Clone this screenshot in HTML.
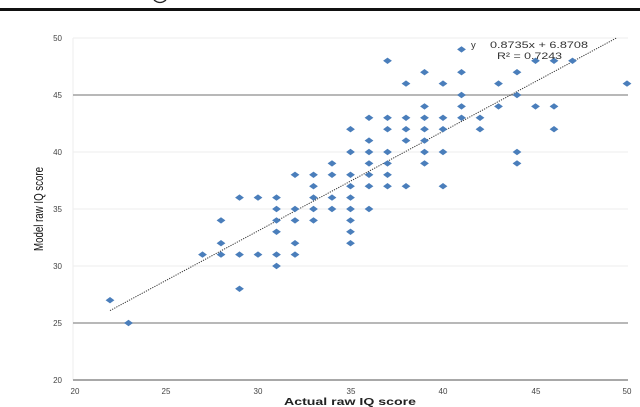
<!DOCTYPE html>
<html><head><meta charset="utf-8"><style>
html,body{margin:0;padding:0;background:#fff;}
svg{display:block;}
text{font-family:"Liberation Sans",sans-serif;}
</style></head><body>
<svg width="640" height="407" viewBox="0 0 640 407" xmlns="http://www.w3.org/2000/svg">
<defs><path id="m" d="M-4.4,0 L0,-3.2 L4.4,0 L0,3.2Z" fill="#4A7EBB"/></defs>
<rect width="640" height="407" fill="#fff"/>
<!-- top rule -->
<rect x="0" y="8" width="640" height="3" fill="#111"/>
<path d="M154,0 Q160,5 166,0" fill="none" stroke="#222" stroke-width="1.3"/>
<!-- faint gridlines -->
<g stroke="#eeeeee" stroke-width="1">
<line x1="73" y1="38" x2="628" y2="38"/>
<line x1="73" y1="152" x2="628" y2="152"/>
<line x1="73" y1="209" x2="628" y2="209"/>
<line x1="73" y1="266" x2="628" y2="266"/>
<line x1="73" y1="38" x2="73" y2="380"/>
</g>
<g stroke="#a0a0a0" stroke-width="1.5">
<line x1="73" y1="95" x2="628" y2="95"/>
<line x1="73" y1="323" x2="628" y2="323"/>
</g>
<line x1="73" y1="380" x2="628" y2="380" stroke="#a8a8a8" stroke-width="2"/>
<!-- y labels -->
<g font-size="8" fill="#444" text-anchor="end">
<text x="62" y="41">50</text>
<text x="62" y="98">45</text>
<text x="62" y="155">40</text>
<text x="62" y="212">35</text>
<text x="62" y="269">30</text>
<text x="62" y="326">25</text>
<text x="62" y="383">20</text>
</g>
<g font-size="8" fill="#444" text-anchor="middle">
<text x="75" y="394">20</text>
<text x="166" y="394">25</text>
<text x="258" y="394">30</text>
<text x="351" y="394">35</text>
<text x="443" y="394">40</text>
<text x="536" y="394">45</text>
<text x="627" y="394">50</text>
</g>
<text x="350" y="405" font-size="10.5" font-weight="bold" fill="#222" text-anchor="middle" textLength="132" lengthAdjust="spacingAndGlyphs">Actual raw IQ score</text>
<text transform="translate(43,209) rotate(-90)" font-size="13" fill="#111" text-anchor="middle" textLength="84" lengthAdjust="spacingAndGlyphs">Model raw IQ score</text>
<!-- trendline -->
<line x1="110" y1="310.6" x2="617" y2="37.7" stroke="#333" stroke-width="1" stroke-dasharray="1.2,1.2"/>
<!-- points -->
<g>
<use href="#m" x="461.5" y="49.4"/>
<use href="#m" x="387.5" y="60.8"/><use href="#m" x="535.5" y="60.8"/><use href="#m" x="554" y="60.8"/><use href="#m" x="572.5" y="60.8"/>
<use href="#m" x="424.5" y="72.2"/><use href="#m" x="461.5" y="72.2"/><use href="#m" x="517" y="72.2"/>
<use href="#m" x="406" y="83.6"/><use href="#m" x="443" y="83.6"/><use href="#m" x="498.5" y="83.6"/><use href="#m" x="627" y="83.6"/>
<use href="#m" x="461.5" y="95"/><use href="#m" x="517" y="95"/>
<use href="#m" x="424.5" y="106.4"/><use href="#m" x="461.5" y="106.4"/><use href="#m" x="498.5" y="106.4"/><use href="#m" x="535.5" y="106.4"/><use href="#m" x="554" y="106.4"/>
<use href="#m" x="369" y="117.8"/><use href="#m" x="387.5" y="117.8"/><use href="#m" x="406" y="117.8"/><use href="#m" x="424.5" y="117.8"/><use href="#m" x="443" y="117.8"/><use href="#m" x="461.5" y="117.8"/><use href="#m" x="480" y="117.8"/>
<use href="#m" x="350.5" y="129.2"/><use href="#m" x="387.5" y="129.2"/><use href="#m" x="406" y="129.2"/><use href="#m" x="424.5" y="129.2"/><use href="#m" x="443" y="129.2"/><use href="#m" x="480" y="129.2"/><use href="#m" x="554" y="129.2"/>
<use href="#m" x="369" y="140.6"/><use href="#m" x="406" y="140.6"/><use href="#m" x="424.5" y="140.6"/>
<use href="#m" x="350.5" y="152"/><use href="#m" x="369" y="152"/><use href="#m" x="387.5" y="152"/><use href="#m" x="424.5" y="152"/><use href="#m" x="443" y="152"/><use href="#m" x="517" y="152"/>
<use href="#m" x="332" y="163.4"/><use href="#m" x="369" y="163.4"/><use href="#m" x="387.5" y="163.4"/><use href="#m" x="424.5" y="163.4"/><use href="#m" x="517" y="163.4"/>
<use href="#m" x="295" y="174.8"/><use href="#m" x="313.5" y="174.8"/><use href="#m" x="332" y="174.8"/><use href="#m" x="350.5" y="174.8"/><use href="#m" x="369" y="174.8"/><use href="#m" x="387.5" y="174.8"/>
<use href="#m" x="313.5" y="186.2"/><use href="#m" x="350.5" y="186.2"/><use href="#m" x="369" y="186.2"/><use href="#m" x="387.5" y="186.2"/><use href="#m" x="406" y="186.2"/><use href="#m" x="443" y="186.2"/>
<use href="#m" x="239.5" y="197.6"/><use href="#m" x="258" y="197.6"/><use href="#m" x="276.5" y="197.6"/><use href="#m" x="313.5" y="197.6"/><use href="#m" x="332" y="197.6"/><use href="#m" x="350.5" y="197.6"/>
<use href="#m" x="276.5" y="209"/><use href="#m" x="295" y="209"/><use href="#m" x="313.5" y="209"/><use href="#m" x="332" y="209"/><use href="#m" x="350.5" y="209"/><use href="#m" x="369" y="209"/>
<use href="#m" x="221" y="220.4"/><use href="#m" x="276.5" y="220.4"/><use href="#m" x="295" y="220.4"/><use href="#m" x="313.5" y="220.4"/><use href="#m" x="350.5" y="220.4"/>
<use href="#m" x="276.5" y="231.8"/><use href="#m" x="350.5" y="231.8"/>
<use href="#m" x="221" y="243.2"/><use href="#m" x="295" y="243.2"/><use href="#m" x="350.5" y="243.2"/>
<use href="#m" x="202.5" y="254.6"/><use href="#m" x="221" y="254.6"/><use href="#m" x="239.5" y="254.6"/><use href="#m" x="258" y="254.6"/><use href="#m" x="276.5" y="254.6"/><use href="#m" x="295" y="254.6"/>
<use href="#m" x="276.5" y="266"/>
<use href="#m" x="239.5" y="288.8"/>
<use href="#m" x="110" y="300.2"/>
<use href="#m" x="128.5" y="323"/>
</g>
<!-- equation -->
<g font-size="9.5" fill="#333">
<text x="471" y="48">y</text>
<text x="490" y="48" textLength="98" lengthAdjust="spacingAndGlyphs">0.8735x + 6.8708</text>
<text x="497" y="59" textLength="65" lengthAdjust="spacingAndGlyphs">R² = 0.7243</text>
</g>
</svg>
</body></html>
